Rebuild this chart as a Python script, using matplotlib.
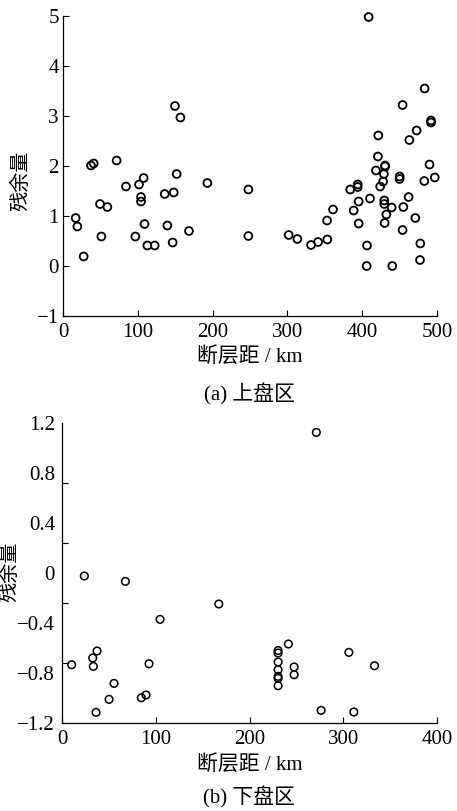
import matplotlib
matplotlib.use('Agg')
import matplotlib.pyplot as plt

plt.rcParams['font.family'] = ['Liberation Serif', 'Noto Sans CJK SC']
plt.rcParams['axes.unicode_minus'] = True

# (a) hanging wall: fault distance (km) and residual
hw_dist = [149.7, 157, 37.4, 41, 71.7, 152, 107.8, 101.6, 84.2, 193, 247.8, 136, 148,
           104.3, 104.3, 49.5, 59.3, 16.9, 19.2, 109, 139.5, 168.4, 51.3, 96.7, 247.8,
           112.8, 122.6, 146.6, 27.6,
           408.6, 483.5, 454, 492, 492, 472.8, 463, 421.5, 421, 430.5, 430.5, 490,
           418.4, 429, 450, 450, 497, 483, 428, 424, 394, 394, 384, 462, 410.4, 395.3,
           429.5, 429.5, 439.4, 455, 361, 388.6, 432.3, 353, 471, 395.3, 430, 454,
           301.7, 313.3, 331.6, 341, 353.4, 406.4, 477.7, 477.3, 406, 440.2]
hw_resid = [3.20, 2.97, 2.01, 2.05, 2.11, 1.84, 1.76, 1.63, 1.59, 1.66, 1.53, 1.44, 1.47,
            1.38, 1.29, 1.24, 1.18, 0.96, 0.79, 0.84, 0.81, 0.70, 0.59, 0.59, 0.60,
            0.41, 0.41, 0.47, 0.19,
            4.98, 3.55, 3.22, 2.91, 2.87, 2.71, 2.52, 2.61, 2.19, 2.01, 1.99, 2.03,
            1.91, 1.84, 1.79, 1.74, 1.77, 1.70, 1.69, 1.59, 1.63, 1.58, 1.53, 1.38, 1.35, 1.29,
            1.31, 1.24, 1.17, 1.18, 1.13, 1.11, 1.03, 0.91, 0.96, 0.85, 0.86, 0.72,
            0.62, 0.54, 0.42, 0.48, 0.53, 0.41, 0.45, 0.12, 0.00, 0.00]

# (b) footwall
fw_dist = [271.3, 23.8, 67.6, 167.2, 104.6, 241.5, 37.4, 230.5, 230.5, 306, 32.7, 230.5,
           10.3, 92.8, 33.4, 247.6, 333.3, 230.5, 247.6, 230.5, 230.5, 55.5, 230.5,
           89.6, 84.6, 50.2, 36.3, 276.4, 311.3]
fw_resid = [1.125, -0.024, -0.067, -0.248, -0.371, -0.568, -0.624, -0.62, -0.64, -0.635,
            -0.68, -0.712, -0.734, -0.726, -0.747, -0.752, -0.742, -0.774, -0.814,
            -0.827, -0.843, -0.883, -0.902, -0.976, -0.998, -1.011, -1.115, -1.099, -1.112]

top_xticks = [0, 100, 200, 300, 400, 500]
top_yticks = [-1, 0, 1, 2, 3, 4, 5]
bot_xticks = [0, 100, 200, 300, 400]
bot_yticks = [-1.2, -0.8, -0.4, 0, 0.4, 0.8, 1.2]
bot_ylabels = ['\u22121.2', '\u22120.8', '\u22120.4', '0', '0.4', '0.8', '1.2']
bot_ytick_marks = [-1.2, -0.72, -0.24, 0.24, 0.72, 1.2]

xlabel = '断层距 / km'
ylabel = '残余量'
cap_a = '(a) 上盘区'
cap_b = '(b) 下盘区'

W, H = 457, 811
fig = plt.figure(figsize=(W / 100, H / 100), dpi=100)

ax1 = fig.add_axes([63 / W, (H - 316) / H, 374 / W, 300 / H])
ax2 = fig.add_axes([62 / W, (H - 723) / H, 375 / W, 300 / H])

for ax in (ax1, ax2):
    for s in ('top', 'right'):
        ax.spines[s].set_visible(False)
    for s in ('left', 'bottom'):
        ax.spines[s].set_linewidth(0.9)
    ax.tick_params(direction='in', length=4, width=0.8, labelsize=15, colors='black')
    ax.tick_params(axis='x', pad=5)
    ax.tick_params(axis='y', pad=3)

ax1.scatter(hw_dist, hw_resid, s=32, facecolors='none', edgecolors='black',
            linewidths=1.3, clip_on=False)
ax1.set_xlim(0, 500)
ax1.set_ylim(-1, 5)
ax1.set_xticks(top_xticks)
ax1.set_yticks(top_yticks)

ax2.scatter(fw_dist, fw_resid, s=30, facecolors='none', edgecolors='black',
            linewidths=1.1, clip_on=False)
ax2.set_xlim(0, 400)
ax2.set_ylim(-1.2, 1.2)
ax2.set_xticks(bot_xticks)
ax2.set_yticks(bot_yticks)
ax2.set_yticklabels(bot_ylabels)
ax2.tick_params(axis='y', which='major', length=0, pad=5)
ax2.set_yticks(bot_ytick_marks, minor=True)
ax2.tick_params(axis='y', which='minor', direction='in', length=4, width=0.8)

fig.text(250 / W, 1 - 357 / H, xlabel, ha='center', va='center', fontsize=15)
fig.text(250 / W, 1 - 394 / H, cap_a, ha='center', va='center', fontsize=15)
fig.text(250 / W, 1 - 765 / H, xlabel, ha='center', va='center', fontsize=15)
fig.text(249 / W, 1 - 797 / H, cap_b, ha='center', va='center', fontsize=15)

fig.text(22 / W, 1 - 181 / H, ylabel, rotation=90, ha='center', va='center', fontsize=14.5)
fig.text(11 / W, 1 - 572 / H, ylabel, rotation=90, ha='center', va='center', fontsize=14.5)

fig.savefig('out.png', dpi=100)
